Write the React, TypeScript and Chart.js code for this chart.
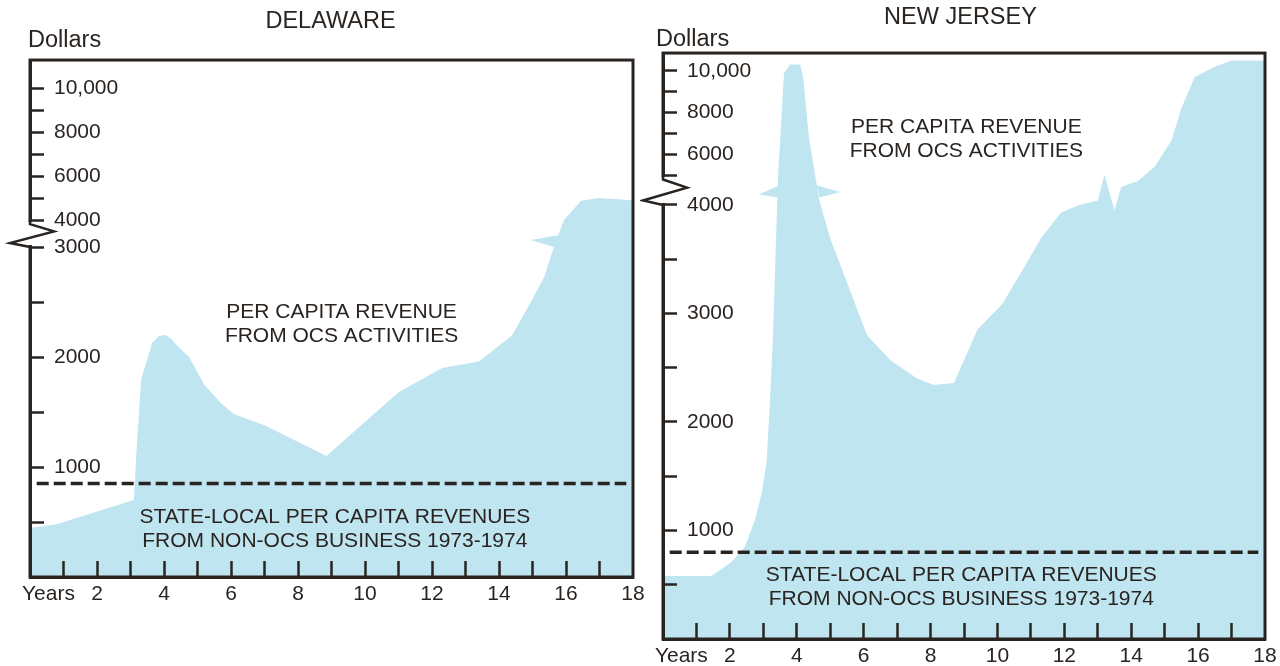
import React, { useEffect, useRef } from 'react';
import { Chart, registerables, LinearScale } from 'chart.js';

Chart.register(...registerables);

// ---------------- data ----------------
const delawareYears = [0, 0.8, 3.1, 3.17, 3.32, 3.65, 3.85, 4.02, 4.2, 4.4, 4.75, 5.2, 5.7, 6.1, 7.0, 8.85, 10.3, 11.0, 12.3, 13.4, 14.4, 14.95, 15.34, 15.64, 15.94, 16.45, 16.96, 18];
const delawareRevenue = [445, 480, 700, 1100, 1800, 2130, 2190, 2200, 2170, 2100, 2000, 1750, 1580, 1480, 1380, 1100, 1490, 1680, 1900, 1960, 2200, 2500, 2720, 3000, 4000, 4880, 5000, 4900];

const newJerseyYears = [0, 1.45, 2.05, 2.45, 2.75, 2.95, 3.1, 3.2, 3.29, 3.35, 3.44, 3.62, 3.8, 4.1, 4.19, 4.37, 4.67, 5.0, 5.36, 6.1, 6.8, 7.6, 8.1, 8.7, 8.9, 9.4, 10.15, 10.75, 11.3, 11.9, 12.45, 13.0, 13.2, 13.5, 13.7, 14.2, 14.7, 15.2, 15.5, 15.9, 16.5, 17.0, 18];
const newJerseyRevenue = [580, 580, 710, 850, 1100, 1340, 1640, 2200, 2800, 3400, 4930, 9900, 10300, 10300, 9700, 6700, 4170, 3690, 3400, 2800, 2570, 2400, 2340, 2360, 2500, 2850, 3090, 3400, 3690, 3930, 4000, 4150, 5000, 3950, 4600, 4800, 5400, 6650, 8200, 9700, 10200, 10500, 10500];

// scale-break flares drawn across the area (year, dollars)
const delawareBreakFlares = [
  [[15.8, 3450], [14.95, 3260], [15.64, 3000]],
];
const newJerseyBreakFlares = [
  [[3.47, 4650], [2.87, 4350], [3.42, 4250]],
  [[4.6, 4650], [5.3, 4430], [4.68, 4250]],
];

const delawareNonOcsRevenue = 850;
const newJerseyNonOcsRevenue = 800;
const nonOcsYearSpan = [0.2, 17.8];

const xTickValues = [0.55, 1, 2, 3, 4, 5, 6, 7, 8, 9, 10, 11, 12, 13, 14, 15, 16, 17, 18];
const xTickLabels = ['Years', '', '2', '', '4', '', '6', '', '8', '', '10', '', '12', '', '14', '', '16', '', '18'];

const delawareYTicks = [500, 1000, 1500, 2000, 2500, 3000, 4000, 5000, 6000, 7000, 8000, 9000, 10000];
const delawareYLabels = ['', '1000', '', '2000', '', '3000', '4000', '', '6000', '', '8000', '', '10,000'];
const newJerseyYTicks = [500, 1000, 1500, 2000, 2500, 3000, 3500, 4000, 5000, 6000, 7000, 8000, 9000, 10000];
const newJerseyYLabels = ['', '1000', '', '2000', '', '3000', '', '4000', '', '6000', '', '8000', '', '10,000'];

const titles = ['DELAWARE', 'NEW JERSEY'];
const yUnitLabel = 'Dollars';
const ocsNote = ['PER CAPITA REVENUE', 'FROM OCS ACTIVITIES'];
const nonOcsNote = ['STATE-LOCAL PER CAPITA REVENUES', 'FROM NON-OCS BUSINESS 1973-1974'];

// ---------------- styles ----------------
const INK = '#2a2421';
const AREA = '#bee5f0';
const FONT = '"Liberation Sans", Arial, Helvetica, sans-serif';
Chart.defaults.font.family = FONT;

// ---------------- broken linear scale ----------------
class BrokenLinearScale extends LinearScale {
  static id = 'brokenLinear';
  static defaults = LinearScale.defaults;

  toAxis(v: number) {
    const b = (this as any).options.breakAxis;
    if (v <= b.lowerMax) return v;
    if (v >= b.upperMin) return b.lowerMax + b.gap + (v - b.upperMin) * b.ratio;
    return b.lowerMax + ((v - b.lowerMax) / (b.upperMin - b.lowerMax)) * b.gap;
  }
  fromAxis(u: number) {
    const b = (this as any).options.breakAxis;
    if (u <= b.lowerMax) return u;
    if (u >= b.lowerMax + b.gap) return b.upperMin + (u - b.lowerMax - b.gap) / b.ratio;
    return b.lowerMax + ((u - b.lowerMax) / b.gap) * (b.upperMin - b.lowerMax);
  }
  getPixelForValue(value: any) {
    if (value === null || value === undefined || isNaN(value)) return NaN;
    return super.getPixelForValue(this.toAxis(+value));
  }
  getValueForPixel(pixel: number) {
    return this.fromAxis(super.getValueForPixel(pixel));
  }
  buildTicks() {
    const vals: number[] = (this as any).options.tickValues;
    return vals.map((v) => ({ value: v }));
  }
}
Chart.register(BrokenLinearScale as any);

type Note = { x: number; y: number; lines: string[] };

function areaFlarePlugin(flares: number[][][]) {
  return {
    id: 'areaFlares',
    afterDatasetsDraw(chart: any) {
      const { ctx, scales } = chart;
      ctx.save();
      ctx.fillStyle = AREA;
      flares.forEach((poly) => {
        ctx.beginPath();
        poly.forEach(([yr, val], i) => {
          const px = scales.x.getPixelForValue(yr);
          const py = scales.y.getPixelForValue(val);
          if (i === 0) ctx.moveTo(px, py);
          else ctx.lineTo(px, py);
        });
        ctx.closePath();
        ctx.fill();
      });
      ctx.restore();
    },
  };
}

function overlayPlugin(notes: Note[]) {
  return {
    id: 'overlay',
    afterDraw(chart: any) {
      const { ctx, chartArea: a, scales } = chart;
      const xs = scales.x;
      const ys = scales.y;
      ctx.save();
      // frame
      ctx.strokeStyle = INK;
      ctx.lineWidth = 3;
      ctx.strokeRect(a.left, a.top, a.right - a.left, a.bottom - a.top);
      // axis break
      const b = ys.options.breakAxis;
      const yHigh = ys.getPixelForValue(b.upperMin);
      const yLow = ys.getPixelForValue(b.lowerMax);
      const g = yLow - yHigh;
      ctx.fillStyle = '#ffffff';
      ctx.fillRect(a.left - 3, yHigh + 2, 6, g - 4);
      ctx.beginPath();
      ctx.lineJoin = 'miter';
      ctx.lineWidth = 2.5;
      ctx.moveTo(a.left, yHigh);
      ctx.lineTo(a.left, yHigh + 0.15 * g);
      ctx.lineTo(a.left + 24, yHigh + 0.42 * g);
      ctx.lineTo(a.left - 20, yHigh + 0.85 * g);
      ctx.lineTo(a.left, yLow);
      ctx.stroke();
      // notes
      ctx.fillStyle = INK;
      ctx.font = `21px ${FONT}`;
      ctx.textAlign = 'center';
      ctx.textBaseline = 'middle';
      notes.forEach((n) => {
        const cx = xs.getPixelForValue(n.x);
        const cy = ys.getPixelForValue(n.y);
        const lh = 24;
        n.lines.forEach((line, i) => {
          ctx.fillText(line, cx, cy + (i - (n.lines.length - 1) / 2) * lh);
        });
      });
      ctx.restore();
    },
  };
}

type PanelSpec = {
  title: string;
  years: number[];
  revenue: number[];
  flares: number[][][];
  nonOcs: number;
  yTicks: number[];
  yLabels: string[];
  breakAxis: { lowerMax: number; upperMin: number; gap: number; ratio: number };
  yMax: number;
  yAxisWidth: number;
  xAxisHeight: number;
  padding: { left: number; right: number; top: number; bottom: number };
  titlePad: { top: number; bottom: number };
  subPad: { top: number; bottom: number };
  notes: Note[];
};

function buildConfig(p: PanelSpec): any {
  return {
    type: 'line',
    data: {
      datasets: [
        {
          label: 'Non-OCS revenue',
          data: nonOcsYearSpan.map((x) => ({ x, y: p.nonOcs })),
          borderColor: INK,
          borderWidth: 3.5,
          borderDash: [12, 5],
          borderCapStyle: 'butt',
          pointRadius: 0,
          fill: false,
        },
        {
          label: 'OCS revenue',
          data: p.years.map((x, i) => ({ x, y: p.revenue[i] })),
          backgroundColor: AREA,
          borderColor: 'rgba(0,0,0,0)',
          borderWidth: 0,
          pointRadius: 0,
          fill: 'origin',
          tension: 0,
        },
      ],
    },
    options: {
      animation: false,
      responsive: false,
      devicePixelRatio: 1,
      events: [],
      layout: { padding: p.padding },
      plugins: {
        legend: { display: false },
        tooltip: { enabled: false },
        title: {
          display: true,
          text: p.title,
          color: INK,
          font: { size: 23.5, weight: 'normal', lineHeight: 0.75 },
          padding: p.titlePad,
        },
        subtitle: {
          display: true,
          text: yUnitLabel,
          align: 'start',
          color: INK,
          font: { size: 23.5, weight: 'normal', lineHeight: 0.75 },
          padding: p.subPad,
        },
      },
      scales: {
        x: {
          type: 'linear',
          min: 0,
          max: 18,
          afterBuildTicks: (s: any) => {
            s.ticks = xTickValues.map((v) => ({ value: v }));
          },
          afterFit: (s: any) => {
            s.height = p.xAxisHeight;
            s.paddingLeft = 0;
            s.paddingRight = 0;
          },
          grid: {
            drawOnChartArea: false,
            drawTicks: true,
            tickLength: -16,
            tickWidth: 2.5,
            tickColor: (c: any) =>
              c.tick && (c.tick.value < 1 || c.tick.value >= 18) ? 'rgba(0,0,0,0)' : INK,
            z: 1,
          },
          border: { display: true, color: INK, width: 3, z: 1 },
          ticks: {
            autoSkip: false,
            maxRotation: 0,
            minRotation: 0,
            padding: 21,
            color: INK,
            font: { size: 21 },
            z: 1,
            callback: (v: number) => {
              const i = xTickValues.indexOf(v);
              return i >= 0 ? xTickLabels[i] : '';
            },
          },
        },
        y: {
          type: 'brokenLinear',
          min: 0,
          max: p.yMax,
          breakAxis: p.breakAxis,
          tickValues: p.yTicks,
          afterFit: (s: any) => {
            s.width = p.yAxisWidth;
            s.paddingTop = 0;
            s.paddingBottom = 0;
          },
          grid: {
            drawOnChartArea: false,
            drawTicks: true,
            tickLength: -14,
            tickWidth: 2.5,
            tickColor: INK,
            z: 1,
          },
          border: { display: true, color: INK, width: 3, z: 1 },
          ticks: {
            mirror: true,
            autoSkip: false,
            padding: 24,
            color: INK,
            font: { size: 21 },
            z: 1,
            callback: (v: number) => {
              const i = p.yTicks.indexOf(v);
              return i >= 0 ? p.yLabels[i] : '';
            },
          },
        },
      },
    },
    plugins: [areaFlarePlugin(p.flares), overlayPlugin(p.notes)],
  };
}

const delawareSpec: PanelSpec = {
  title: titles[0],
  years: delawareYears,
  revenue: delawareRevenue,
  flares: delawareBreakFlares,
  nonOcs: delawareNonOcsRevenue,
  yTicks: delawareYTicks,
  yLabels: delawareYLabels,
  breakAxis: { lowerMax: 3000, upperMin: 4000, gap: 245, ratio: 0.2 },
  yMax: 4700,
  yAxisWidth: 2,
  xAxisHeight: 40,
  padding: { left: 28, right: 27, top: 0, bottom: 49 },
  titlePad: { top: 13.2, bottom: 0 },
  subPad: { top: 0.4, bottom: 11.2 },
  notes: [
    { x: 9.3, y: 2300, lines: ocsNote },
    { x: 9.1, y: 436, lines: nonOcsNote },
  ],
};

const newJerseySpec: PanelSpec = {
  title: titles[1],
  years: newJerseyYears,
  revenue: newJerseyRevenue,
  flares: newJerseyBreakFlares,
  nonOcs: newJerseyNonOcsRevenue,
  yTicks: newJerseyYTicks,
  yLabels: newJerseyYLabels,
  breakAxis: { lowerMax: 4000, upperMin: 5000, gap: 276, ratio: 0.192 },
  yMax: 5400,
  yAxisWidth: 7,
  xAxisHeight: 27,
  padding: { left: 16, right: 15, top: 0, bottom: 0 },
  titlePad: { top: 9.2, bottom: 0 },
  subPad: { top: 3.4, bottom: 5.2 },
  notes: [
    { x: 9.07, y: 6730, lines: ocsNote },
    { x: 8.92, y: 480, lines: nonOcsNote },
  ],
};

function Panel({ spec, left, width }: { spec: PanelSpec; left: number; width: number }) {
  const ref = useRef<HTMLCanvasElement | null>(null);
  useEffect(() => {
    if (!ref.current) return;
    const chart = new Chart(ref.current, buildConfig(spec));
    return () => chart.destroy();
  }, [spec]);
  return (
    <canvas
      ref={ref}
      width={width}
      height={666}
      style={{ position: 'absolute', left, top: 0, width, height: 666 }}
    />
  );
}

export default function App() {
  return (
    <div
      style={{
        position: 'fixed',
        left: 0,
        top: 0,
        width: 1280,
        height: 666,
        background: '#ffffff',
        overflow: 'hidden',
      }}
    >
      <Panel spec={delawareSpec} left={0} width={660} />
      <Panel spec={newJerseySpec} left={640} width={640} />
    </div>
  );
}
